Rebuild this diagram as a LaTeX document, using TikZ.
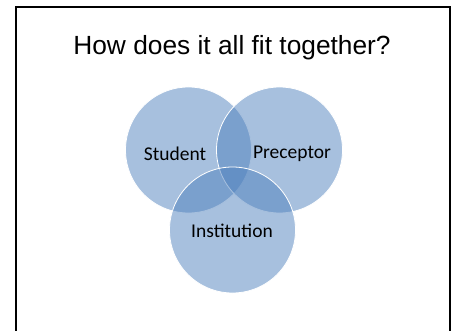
\documentclass[tikz,border=0pt]{standalone}
\usepackage{fontspec}
\setmainfont{Liberation Sans}
\newfontfamily\calib{Carlito}
\definecolor{vennblue}{RGB}{79,129,189}
\tikzset{
  venn/.style={circle, minimum size=126pt, inner sep=0pt, fill=vennblue, fill opacity=0.5, draw=white, line width=0.8pt, text opacity=1},
  lbl/.style={font=\calib\fontsize{19.5}{23}\selectfont, text=black}
}
\begin{document}
\begin{tikzpicture}[x=1pt,y=-1pt]
\useasboundingbox (0,0) rectangle (452,331);
\begin{scope}
\clip (0,0) rectangle (452,331);
\draw[line width=2pt] (16,7.5) rectangle (450,340);
\end{scope}
\node[font=\fontsize{26.3}{31}\selectfont] (title) at (232,48) {How does it all fit together?};
\node[venn] (stu) at (188.5,150) {};
\node[venn] (pre) at (279.5,150) {};
\node[venn] (ins) at (232.5,230) {};
\node[lbl] (stul) at (175,154) {Student};
\node[lbl] (prel) at (292,154) {Preceptor};
\node[lbl] (insl) at (232,231) {Institution};
\end{tikzpicture}
\end{document}
